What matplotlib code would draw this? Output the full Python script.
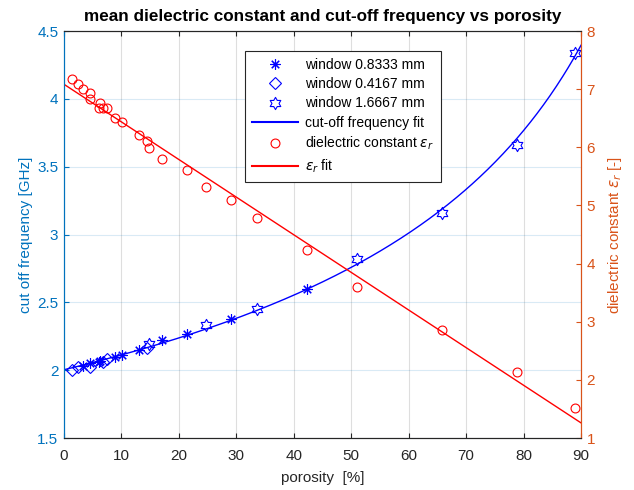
import matplotlib
matplotlib.use('Agg')
import matplotlib.pyplot as plt
import numpy as np
from matplotlib.path import Path
from matplotlib.lines import Line2D

plt.rcParams['font.family'] = ['Liberation Sans', 'DejaVu Sans']
plt.rcParams['mathtext.fontset'] = 'dejavusans'

# ---------------- data ----------------
# window 0.4167 mm (diamonds)
por_d = [1.34, 2.38, 4.53, 6.85, 7.43, 14.5]
f_d = [2.00, 2.02, 2.02, 2.06, 2.08, 2.16]
# window 0.8333 mm (asterisks)
por_a = [3.37, 4.53, 6.15, 6.27, 8.82, 10.1, 13.1, 17.0, 21.36, 29.0, 42.36]
f_a = [2.03, 2.05, 2.06, 2.07, 2.10, 2.11, 2.15, 2.22, 2.27, 2.375, 2.60]
# window 1.6667 mm (hexagrams)
por_h = [14.85, 24.72, 33.55, 51.06, 65.75, 78.9, 88.96]
f_h = [2.19, 2.33, 2.45, 2.82, 3.16, 3.66, 4.34]
# dielectric constant
por_e = [1.34, 2.38, 3.37, 4.53, 4.53, 6.27, 6.15, 6.85, 7.43, 8.82, 10.1, 13.1,
         14.5, 14.85, 17.0, 21.36, 24.72, 29.0, 33.55, 42.36, 51.06, 65.75, 78.9, 88.96]
eps_r = [7.17, 7.09, 7.00, 6.93, 6.83, 6.76, 6.67, 6.67, 6.67, 6.51, 6.43, 6.21,
         6.11, 5.99, 5.80, 5.61, 5.31, 5.09, 4.78, 4.23, 3.60, 2.86, 2.14, 1.51]

xticks = [0, 10, 20, 30, 40, 50, 60, 70, 80, 90]
yticks_left = [1.5, 2, 2.5, 3, 3.5, 4, 4.5]
yticks_left_labels = ['1.5', '2', '2.5', '3', '3.5', '4', '4.5']
yticks_right = [1, 2, 3, 4, 5, 6, 7, 8]

# ---------------- style ----------------
BLUE_AX = '#0072BD'
ORANGE_AX = '#D95319'
DARK = '#262626'

asterisk = (8, 2, 0)
hexa = Path.unit_regular_star(6, 0.577)
MS_AST, MS_DIA, MS_HEX, MS_CIR = 7.5, 6.0, 8.8, 6.4
MEW = 0.8

fig = plt.figure(figsize=(6.34, 4.90), dpi=100)
ax = fig.add_axes([64/634, 52/490, 517/634, 407/490])
ax2 = ax.twinx()

# fits computed from data (f ~ 1/sqrt(quadratic)), weighted to approximate LS in f
por_all = np.array(por_d + por_a + por_h)
f_all = np.array(f_d + f_a + f_h)
cg = np.polyfit(por_all, 1.0 / f_all**2, 2, w=f_all**3)
xf = np.linspace(0, 90, 400)
ax.plot(xf, 1.0 / np.sqrt(np.polyval(cg, xf)), color='b', lw=1.0, zorder=2)

ce = np.polyfit(por_e, eps_r, 1)
ax2.plot(xf, np.polyval(ce, xf), color='r', lw=1.0, zorder=2)

ax.plot(por_a, f_a, ls='none', marker=asterisk, ms=MS_AST, mec='b', mew=MEW, zorder=3)
ax.plot(por_d, f_d, ls='none', marker='D', ms=MS_DIA, mec='b', mfc='none', mew=MEW, zorder=3)
ax.plot(por_h, f_h, ls='none', marker=hexa, ms=MS_HEX, mec='b', mfc='none', mew=MEW, zorder=3)
ax2.plot(por_e, eps_r, ls='none', marker='o', ms=MS_CIR, mec='r', mfc='none', mew=MEW, zorder=3)

ax.set_xlim(0, 90)
ax.set_ylim(1.5, 4.5)
ax2.set_ylim(1, 8)
ax.set_xticks(xticks)
ax.set_xticklabels([str(t) for t in xticks])
ax.set_yticks(yticks_left)
ax.set_yticklabels(yticks_left_labels)
ax2.set_yticks(yticks_right)
ax2.set_yticklabels([str(t) for t in yticks_right])

ax.tick_params(axis='x', direction='in', length=3.5, width=0.8, top=True, bottom=True,
               colors=DARK, labelsize=11, labelcolor=DARK, pad=8)
ax.tick_params(axis='y', direction='in', length=3.5, width=0.8, left=True, right=False,
               colors=BLUE_AX, labelsize=11, pad=4)
ax2.tick_params(axis='y', direction='in', length=3.5, width=0.8, right=True, left=False,
                colors=ORANGE_AX, labelsize=11, pad=4)

for a in (ax, ax2):
    a.spines['left'].set_color(BLUE_AX)
    a.spines['right'].set_color(ORANGE_AX)
    a.spines['top'].set_color(DARK)
    a.spines['bottom'].set_color(DARK)
    for s in a.spines.values():
        s.set_linewidth(0.8)

ax.xaxis.grid(True, color=DARK, alpha=0.15, lw=0.8)
ax.yaxis.grid(True, color=BLUE_AX, alpha=0.15, lw=0.8)
ax.set_axisbelow(True)

ax.set_xlabel('porosity  [%]', fontsize=11, color=DARK, labelpad=6)
ax.set_ylabel('cut off frequency [GHz]', fontsize=11, color=BLUE_AX, labelpad=3)
ax2.set_ylabel('dielectric constant $\\epsilon_r$ [-]', fontsize=11, color=ORANGE_AX, labelpad=8)
ax.set_title('mean dielectric constant and cut-off frequency vs porosity',
             fontsize=12.3, fontweight='bold', color='black', pad=7)

handles = [
    Line2D([], [], ls='none', marker=asterisk, ms=MS_AST, mec='b', mew=MEW),
    Line2D([], [], ls='none', marker='D', ms=MS_DIA, mec='b', mfc='none', mew=MEW),
    Line2D([], [], ls='none', marker=hexa, ms=MS_HEX, mec='b', mfc='none', mew=MEW),
    Line2D([], [], color='b', lw=1.5),
    Line2D([], [], ls='none', marker='o', ms=MS_CIR, mec='r', mfc='none', mew=MEW),
    Line2D([], [], color='r', lw=1.5),
]
labels = ['window 0.8333 mm', 'window 0.4167 mm', 'window 1.6667 mm',
          'cut-off frequency fit', 'dielectric constant $\\epsilon_r$', '$\\epsilon_r$ fit']
leg = ax2.legend(handles, labels, loc='upper left', bbox_to_anchor=(0.350, 0.951),
                 borderaxespad=0, fontsize=10, frameon=True, fancybox=False,
                 edgecolor=DARK, framealpha=1, handlelength=3.3, handletextpad=0.5,
                 labelspacing=0.38, borderpad=0.5)
leg.get_frame().set_linewidth(0.8)

fig.savefig('out.png', dpi=100)
